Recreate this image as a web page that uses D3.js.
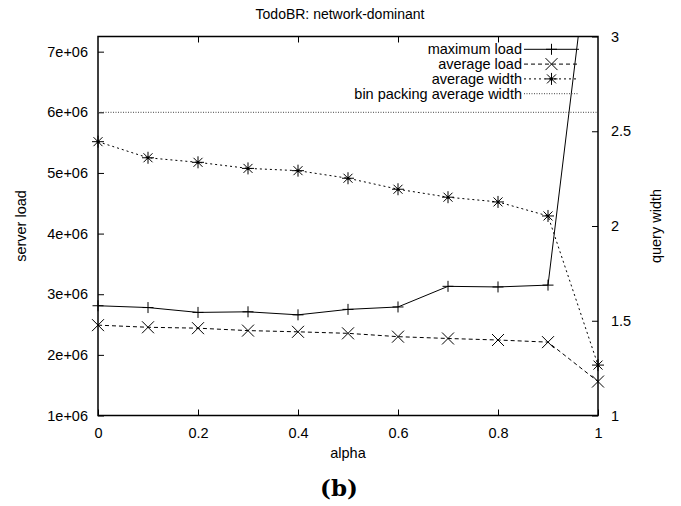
<!DOCTYPE html>
<html>
<head>
<meta charset="utf-8">
<script src="https://cdn.jsdelivr.net/npm/d3@7"></script>
<style>
  body { margin: 0; background: #fff; }
  svg { display: block; font-family: "Liberation Sans", Arial, sans-serif; }
  .axis text { font-size: 14.5px; fill: #000; }
</style>
</head>
<body>
<div id="vis"></div>
<script>
// DATA
let alpha = [0, 0.1, 0.2, 0.3, 0.4, 0.5, 0.6, 0.7, 0.8, 0.9, 1];
let maxLoad = [2.81e6, 2.78e6, 2.70e6, 2.71e6, 2.66e6, 2.75e6, 2.79e6, 3.13e6, 3.12e6, 3.15e6, 9.93e6];
let avgLoad = [2.49e6, 2.455e6, 2.44e6, 2.40e6, 2.38e6, 2.355e6, 2.30e6, 2.27e6, 2.245e6, 2.21e6, 1.56e6];
let avgWidth = [2.445, 2.36, 2.336, 2.304, 2.292, 2.252, 2.194, 2.152, 2.127, 2.053, 1.266];
let binPackingWidth = 2.6;
let xTicks = [0, 0.2, 0.4, 0.6, 0.8, 1];
let yTicks = [1e6, 2e6, 3e6, 4e6, 5e6, 6e6, 7e6];
let y2Ticks = [1, 1.5, 2, 2.5, 3];
let legendLabels = ['maximum load', 'average load', 'average width', 'bin packing average width'];

// PARAMETERS
let width = 681,
	height = 506,
	margin = { top: 36.5, right: 83, bottom: 90.5, left: 98 };

let x = d3.scaleLinear().domain([0, 1]).range([margin.left, width - margin.right]),
	y = d3.scaleLinear().domain([1e6, 7.25e6]).range([height - margin.bottom, margin.top]),
	y2 = d3.scaleLinear().domain([1, 3]).range([height - margin.bottom, margin.top]);

let svg = d3.select('#vis').append('svg').attr('width', width).attr('height', height);

svg.append('clipPath').attr('id', 'plot-clip')
	.append('rect')
	.attr('x', margin.left).attr('y', margin.top)
	.attr('width', x(1) - x(0)).attr('height', y.range()[0] - y.range()[1]);

// MARKERS
let plusPath = s => `M${-s},0H${s}M0,${-s}V${s}`,
	crossPath = s => `M${-s},${-s}L${s},${s}M${-s},${s}L${s},${-s}`,
	starPath = s => plusPath(s) + crossPath(s * 0.75);

let series = [
	{ label: legendLabels[0], values: maxLoad, scale: y, dash: null, marker: plusPath(5.5) },
	{ label: legendLabels[1], values: avgLoad, scale: y, dash: '4,3', marker: crossPath(6) },
	{ label: legendLabels[2], values: avgWidth, scale: y2, dash: '2,3', marker: starPath(6) }
];

// AXES
let tickLen = 6;
let xAxis = d3.axisBottom(x).tickValues(xTicks).tickSizeInner(-tickLen).tickSizeOuter(0).tickPadding(12)
		.tickFormat(d => d3.format('')(d)),
	xAxisTop = d3.axisTop(x).tickValues(xTicks.slice(1, -1)).tickSizeInner(-tickLen).tickSizeOuter(0).tickFormat(''),
	yAxis = d3.axisLeft(y).tickValues(yTicks).tickSizeInner(-tickLen).tickSizeOuter(0).tickPadding(10)
		.tickFormat(d => (d / 1e6) + 'e+06'),
	y2Axis = d3.axisRight(y2).tickValues(y2Ticks).tickSizeInner(-tickLen).tickSizeOuter(0).tickPadding(13)
		.tickFormat(d3.format(''));

svg.append('g').attr('class', 'axis').attr('transform', `translate(0,${y.range()[0]})`).call(xAxis);
svg.append('g').attr('class', 'axis').attr('transform', `translate(0,${margin.top})`).call(xAxisTop);
svg.append('g').attr('class', 'axis').attr('transform', `translate(${margin.left},0)`).call(yAxis);
svg.append('g').attr('class', 'axis').attr('transform', `translate(${x(1)},0)`).call(y2Axis);

svg.selectAll('.axis .domain').remove();
svg.selectAll('.axis .tick line').attr('stroke', '#000').attr('stroke-width', 1);

// BORDER
svg.append('rect')
	.attr('x', margin.left).attr('y', margin.top)
	.attr('width', x(1) - x(0)).attr('height', y.range()[0] - y.range()[1])
	.attr('fill', 'none').attr('stroke', '#000').attr('stroke-width', 1.5);

// BIN PACKING LINE
let plot = svg.append('g').attr('clip-path', 'url(#plot-clip)');
plot.append('line')
	.attr('x1', x(0)).attr('x2', x(1))
	.attr('y1', y2(binPackingWidth)).attr('y2', y2(binPackingWidth))
	.attr('stroke', '#444').attr('stroke-width', 1).attr('stroke-dasharray', '1,1.5');

// SERIES
series.forEach(s => {
	let line = d3.line().x((d, i) => x(alpha[i])).y(d => s.scale(d));
	plot.append('path')
		.datum(s.values)
		.attr('d', line)
		.attr('fill', 'none').attr('stroke', '#000').attr('stroke-width', 1)
		.attr('stroke-dasharray', s.dash);
	svg.append('g').selectAll('path')
		.data(s.values.filter(v => v <= s.scale.domain()[1]))
		.join('path')
		.attr('transform', (d, i) => `translate(${x(alpha[i])},${s.scale(d)})`)
		.attr('d', s.marker)
		.attr('fill', 'none').attr('stroke', '#000').attr('stroke-width', 1);
	if (s.label === legendLabels[2]) {
		svg.append('g').selectAll('circle')
			.data(s.values)
			.join('circle')
			.attr('cx', (d, i) => x(alpha[i])).attr('cy', d => s.scale(d))
			.attr('r', 1.5).attr('fill', '#000');
	}
});

// LEGEND
let legend = svg.append('g').attr('transform', 'translate(522, 49.3)'),
	rowH = 14.8;
legendLabels.forEach((label, i) => {
	let row = legend.append('g').attr('transform', `translate(0,${i * rowH})`);
	row.append('text')
		.attr('x', 0).attr('dy', '0.35em')
		.attr('text-anchor', 'end')
		.style('font-size', '14.5px')
		.text(label);
	let s = series[i];
	row.append('line')
		.attr('x1', 2).attr('x2', 57)
		.attr('stroke', i === 3 ? '#444' : '#000').attr('stroke-width', 1)
		.attr('stroke-dasharray', i === 3 ? '1,1.5' : s.dash);
	if (s) {
		row.append('path')
			.attr('transform', 'translate(29.5,0)')
			.attr('d', s.marker)
			.attr('fill', 'none').attr('stroke', '#000');
		if (i === 2) row.append('circle').attr('cx', 29.5).attr('r', 1.5).attr('fill', '#000');
	}
});

// TITLES
svg.append('text')
	.attr('x', 340).attr('y', 14).attr('dy', '0.35em')
	.attr('text-anchor', 'middle').style('font-size', '14px')
	.text('TodoBR: network-dominant');

svg.append('text')
	.attr('x', (x(0) + x(1)) / 2).attr('y', 453).attr('dy', '0.35em')
	.attr('text-anchor', 'middle').style('font-size', '14.5px')
	.text('alpha');

svg.append('text')
	.attr('transform', `translate(21,${(margin.top + y.range()[0]) / 2}) rotate(-90)`)
	.attr('dy', '0.35em')
	.attr('text-anchor', 'middle').style('font-size', '14.5px')
	.text('server load');

svg.append('text')
	.attr('transform', `translate(656,${(margin.top + y.range()[0]) / 2}) rotate(-90)`)
	.attr('dy', '0.35em')
	.attr('text-anchor', 'middle').style('font-size', '14.5px')
	.text('query width');

svg.append('text')
	.attr('x', 339).attr('y', 496)
	.attr('text-anchor', 'middle')
	.style('font-family', '"DejaVu Serif", serif').style('font-weight', 'bold').style('font-size', '23px')
	.text('(b)');
</script>
</body>
</html>
